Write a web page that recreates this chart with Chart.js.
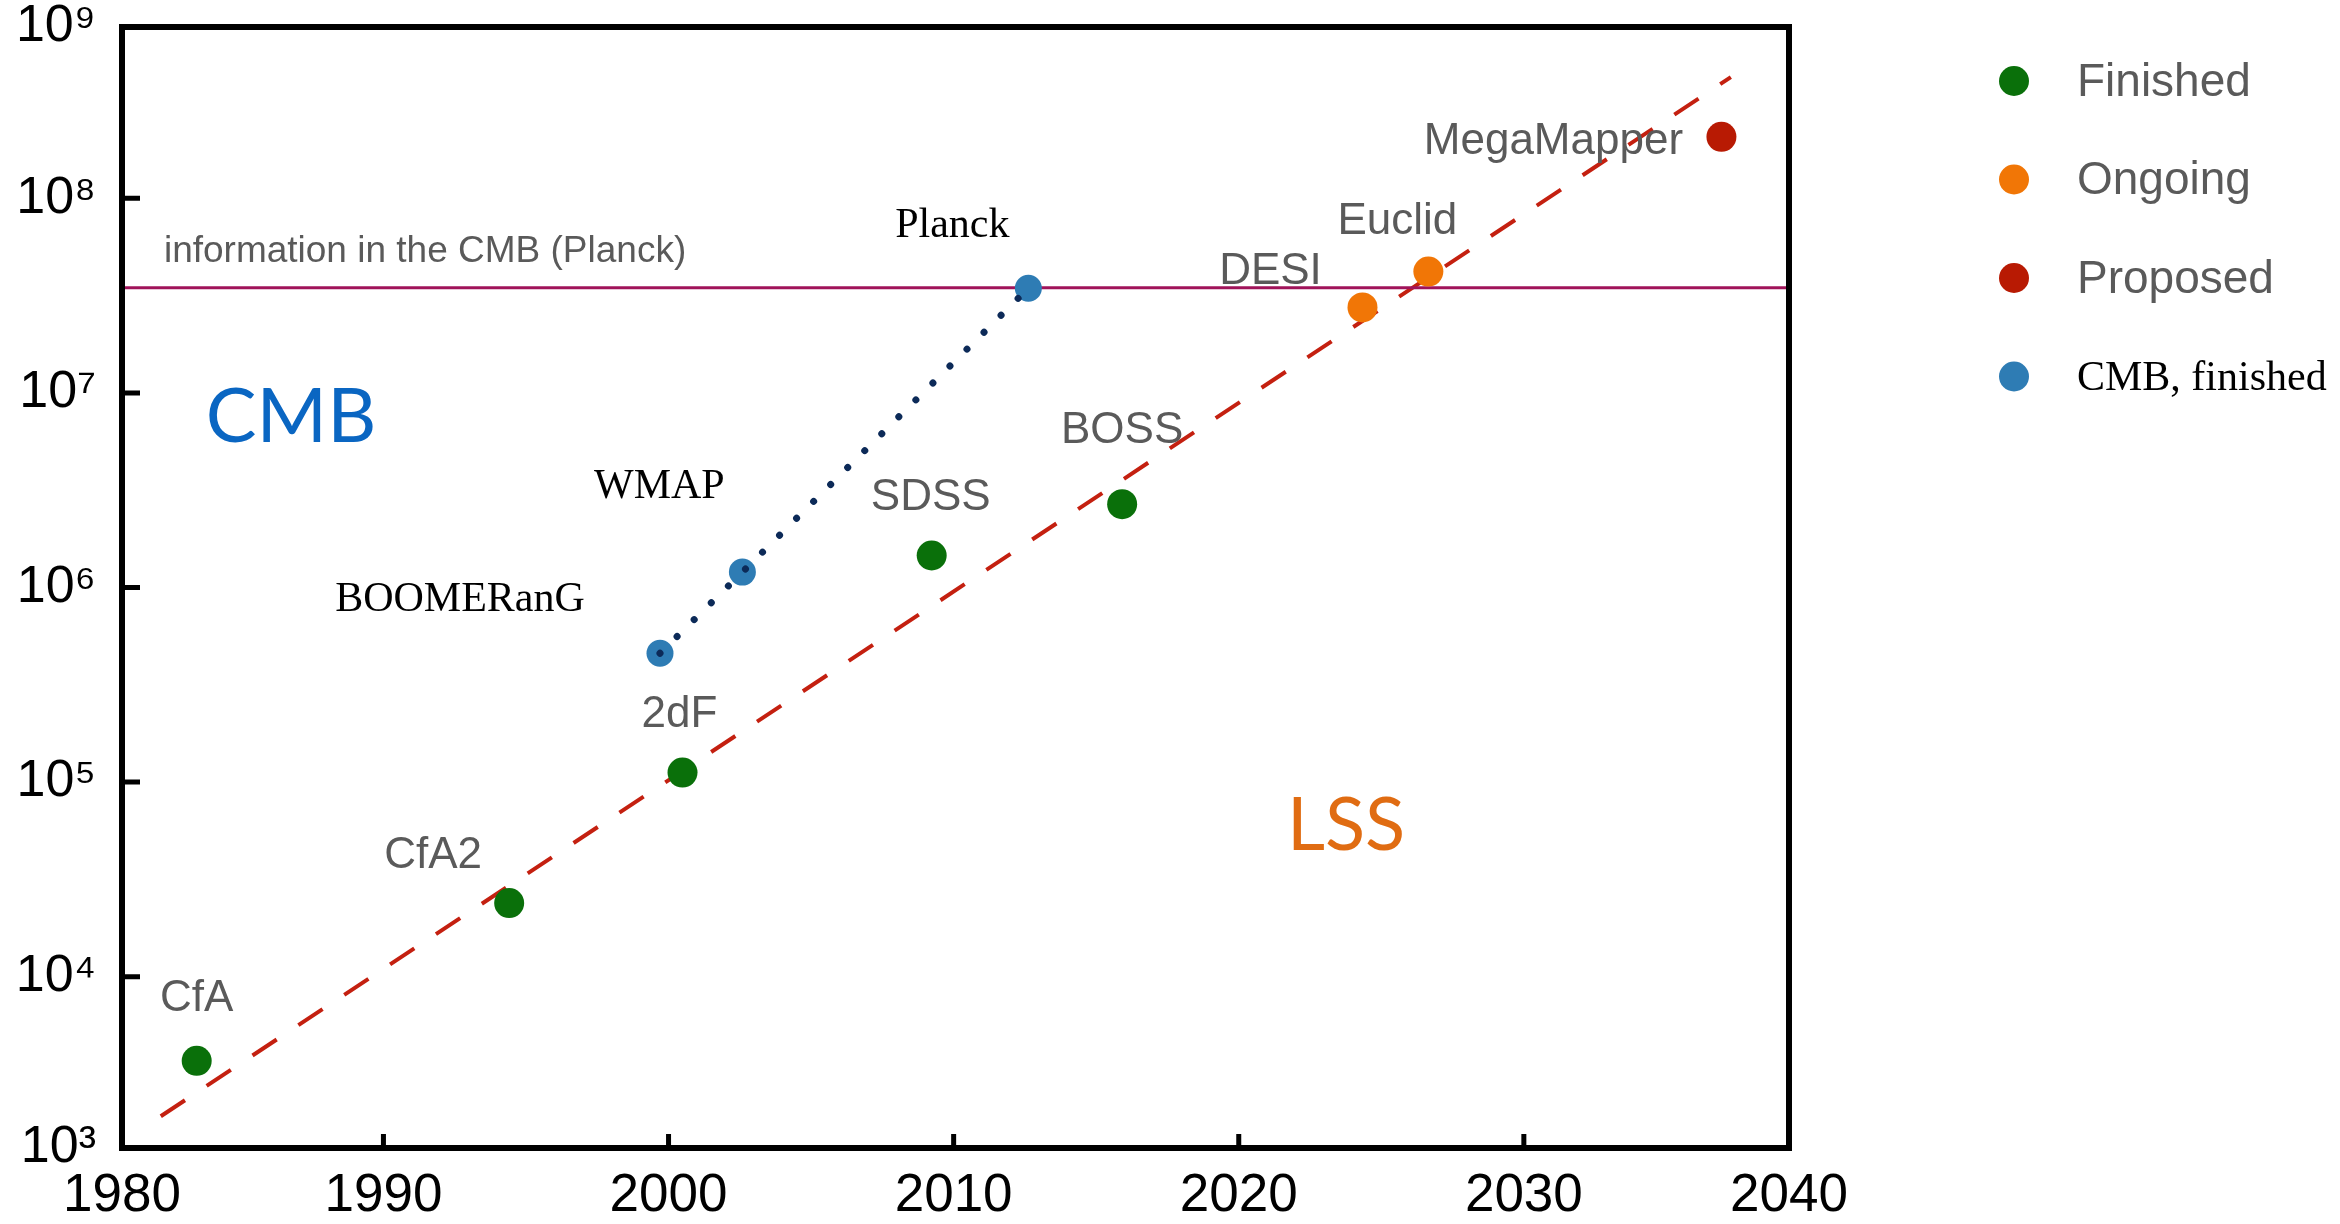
<!DOCTYPE html>
<html lang="en">
<head>
    <meta charset="UTF-8">
    <title>Information content of surveys vs year</title>
    <script src="https://cdn.jsdelivr.net/npm/chart.js"></script>
    <style>
        html, body { margin: 0; padding: 0; background: #fff; }
        #wrap { width: 2340px; height: 1224px; }
    </style>
</head>
<body>
    <div id="wrap"><canvas id="myChart"></canvas></div>

    <script>
        // Galaxy surveys (LSS)
        const surveyNames = ['CfA', 'CfA2', '2dF', 'SDSS', 'BOSS', 'DESI', 'Euclid', 'MegaMapper'];
        const surveyYears = [1983.45, 1994.41, 2000.49, 2009.23, 2015.91, 2024.34, 2026.65, 2036.93];
        const surveyInfo = [3.7e3, 2.39e4, 1.12e5, 1.46e6, 2.68e6, 2.75e7, 4.2e7, 2.07e8];
        const surveyStatus = ['Finished', 'Finished', 'Finished', 'Finished', 'Finished', 'Ongoing', 'Ongoing', 'Proposed'];

        // CMB experiments
        const cmbNames = ['BOOMERanG', 'WMAP', 'Planck'];
        const cmbYears = [1999.70, 2002.59, 2012.62];
        const cmbInfo = [4.59e5, 1.2e6, 3.45e7];

        // red dashed trend for LSS
        const trendYears = [1982.19, 2037.26];
        const trendInfo = [1.92e3, 4.19e8];

        // information in the CMB (Planck)
        const planckLevel = 3.47e7;

        const xTickValues = [1980, 1990, 2000, 2010, 2020, 2030, 2040];
        const xTickLabels = ['1980', '1990', '2000', '2010', '2020', '2030', '2040'];
        const yTickValues = [1e3, 1e4, 1e5, 1e6, 1e7, 1e8, 1e9];
        const yTickLabels = ['10³', '10⁴', '10⁵', '10⁶', '10⁷', '10⁸', '10⁹'];

        // axis extent
        const xMin = 1980.83, xMax = 2039.30;
        const yMin = Math.pow(10, 3.12), yMax = Math.pow(10, 8.88);

        const statusColors = { Finished: '#0a700a', Ongoing: '#f17606', Proposed: '#b81a03' };
        const cmbColor = '#2e7cb4';
        const grayText = '#5a5a5a';

        // label placement relative to its marker (px): [dx of text centre, dy of baseline]
        const labelOffsets = {
            'CfA': [0, -50], 'CfA2': [-76, -35], '2dF': [-3, -46], 'SDSS': [-1, -46],
            'BOSS': [0, -61], 'DESI': [-92, -23], 'Euclid': [-31, -38], 'MegaMapper': [-168, 17],
            'BOOMERanG': [-200, -42], 'WMAP': [-83, -74], 'Planck': [-76, -51]
        };

        const clamp = (v, lo, hi) => Math.min(Math.max(v, lo), hi);

        function statusData(status) {
            const pts = [];
            surveyNames.forEach((n, i) => {
                if (surveyStatus[i] === status) pts.push({ x: surveyYears[i], y: surveyInfo[i] });
            });
            return pts;
        }

        const cmbPoints = cmbYears.map((yr, i) => ({ x: yr, y: cmbInfo[i] }));

        const framePlugin = {
            id: 'frame',
            afterDatasetsDraw(chart) {
                const { ctx, chartArea: a, scales: { x, y } } = chart;
                ctx.save();
                ctx.strokeStyle = '#000';
                ctx.lineWidth = 6;
                ctx.strokeRect(a.left, a.top, a.right - a.left, a.bottom - a.top);
                ctx.lineWidth = 5;
                ctx.beginPath();
                // inward tick marks
                y.ticks.forEach(t => {
                    if (t.value <= y.min || t.value >= y.max) return;
                    const py = y.getPixelForValue(t.value);
                    ctx.moveTo(a.left, py);
                    ctx.lineTo(a.left + 18, py);
                });
                x.ticks.forEach(t => {
                    if (t.value <= x.min || t.value >= x.max) return;
                    const px = x.getPixelForValue(t.value);
                    ctx.moveTo(px, a.bottom);
                    ctx.lineTo(px, a.bottom - 14);
                });
                ctx.stroke();
                ctx.restore();
            }
        };

        const labelPlugin = {
            id: 'pointLabels',
            afterDatasetsDraw(chart) {
                const { ctx, scales: { x, y } } = chart;
                ctx.save();
                ctx.textBaseline = 'alphabetic';
                ctx.textAlign = 'center';

                ctx.fillStyle = grayText;
                ctx.font = '44px "Liberation Sans"';
                surveyNames.forEach((name, i) => {
                    const [dx, dy] = labelOffsets[name];
                    ctx.fillText(name, x.getPixelForValue(surveyYears[i]) + dx, y.getPixelForValue(surveyInfo[i]) + dy);
                });

                ctx.fillStyle = '#000';
                ctx.font = '42px "Liberation Serif"';
                cmbNames.forEach((name, i) => {
                    const [dx, dy] = labelOffsets[name];
                    ctx.fillText(name, x.getPixelForValue(cmbYears[i]) + dx, y.getPixelForValue(cmbInfo[i]) + dy);
                });

                // text on the plot, anchored at data coordinates (left, baseline)
                ctx.textAlign = 'left';
                ctx.fillStyle = grayText;
                ctx.font = '37px "Liberation Sans"';
                ctx.fillText('information in the CMB (Planck)', x.getPixelForValue(1982.30), y.getPixelForValue(4.71e7));

                ctx.fillStyle = '#0a66c2';
                ctx.font = '76px Lato';
                ctx.fillText('CMB', x.getPixelForValue(1983.77), y.getPixelForValue(5.61e6));

                ctx.fillStyle = '#e06c12';
                ctx.font = '74px Lato';
                ctx.fillText('LSS', x.getPixelForValue(2021.69), y.getPixelForValue(4.48e4));
                ctx.restore();
            }
        };

        const legendPlugin = {
            id: 'sideLegend',
            afterDraw(chart) {
                const { ctx, chartArea: a } = chart;
                const items = [
                    { text: 'Finished', color: statusColors.Finished, font: '46px "Liberation Sans"', fill: grayText },
                    { text: 'Ongoing', color: statusColors.Ongoing, font: '46px "Liberation Sans"', fill: grayText },
                    { text: 'Proposed', color: statusColors.Proposed, font: '46px "Liberation Sans"', fill: grayText },
                    { text: 'CMB, finished', color: cmbColor, font: '42px "Liberation Serif"', fill: '#000' }
                ];
                ctx.save();
                items.forEach((it, i) => {
                    const cy = a.top + 54 + i * 98.5;
                    const cx = a.right + 225;
                    ctx.beginPath();
                    ctx.fillStyle = it.color;
                    ctx.arc(cx, cy, 15, 0, Math.PI * 2);
                    ctx.fill();
                    ctx.font = it.font;
                    ctx.fillStyle = it.fill;
                    ctx.textAlign = 'left';
                    ctx.textBaseline = 'middle';
                    ctx.fillText(it.text, a.right + 288, cy + 2);
                });
                ctx.restore();
            }
        };

        const ctx = document.getElementById('myChart').getContext('2d');

        const myChart = new Chart(ctx, {
            type: 'scatter',
            data: {
                datasets: [
                    {
                        label: 'Finished',
                        data: statusData('Finished'),
                        backgroundColor: statusColors.Finished,
                        borderWidth: 0,
                        pointRadius: 15,
                        order: 1
                    },
                    {
                        label: 'Ongoing',
                        data: statusData('Ongoing'),
                        backgroundColor: statusColors.Ongoing,
                        borderWidth: 0,
                        pointRadius: 15,
                        order: 1
                    },
                    {
                        label: 'Proposed',
                        data: statusData('Proposed'),
                        backgroundColor: statusColors.Proposed,
                        borderWidth: 0,
                        pointRadius: 15,
                        order: 1
                    },
                    {
                        label: 'CMB dotted',
                        data: cmbPoints,
                        showLine: true,
                        borderColor: '#0c2a58',
                        borderWidth: 7,
                        borderDash: [0.01, 24],
                        borderCapStyle: 'round',
                        pointRadius: 0,
                        order: 2
                    },
                    {
                        label: 'CMB, finished',
                        data: cmbPoints,
                        backgroundColor: cmbColor,
                        borderWidth: 0,
                        pointRadius: 13.5,
                        order: 3
                    },
                    {
                        label: 'information in the CMB (Planck)',
                        data: [{ x: xMin, y: planckLevel }, { x: xMax, y: planckLevel }],
                        showLine: true,
                        borderColor: '#a0135a',
                        borderWidth: 3,
                        pointRadius: 0,
                        order: 4
                    },
                    {
                        label: 'LSS trend',
                        data: trendYears.map((yr, i) => ({ x: yr, y: trendInfo[i] })),
                        showLine: true,
                        borderColor: '#c42010',
                        borderWidth: 4,
                        borderDash: [29, 26],
                        pointRadius: 0,
                        order: 5
                    }
                ]
            },
            options: {
                responsive: true,
                maintainAspectRatio: false,
                animation: false,
                layout: { padding: { top: 27, right: 551, left: 0, bottom: 0 } },
                plugins: {
                    legend: { display: false },
                    tooltip: { enabled: false }
                },
                scales: {
                    x: {
                        type: 'linear',
                        min: xMin,
                        max: xMax,
                        bounds: 'data',
                        grid: { display: false, drawTicks: false },
                        border: { display: false },
                        afterBuildTicks: s => { s.ticks = xTickValues.map(v => ({ value: clamp(v, xMin, xMax) })); },
                        afterFit: s => { s.height = 76; },
                        ticks: {
                            callback: (v, i) => xTickLabels[i],
                            font: { family: 'Liberation Sans', size: 53, lineHeight: 1 },
                            color: '#000',
                            padding: 22,
                            maxRotation: 0,
                            autoSkip: false
                        }
                    },
                    y: {
                        type: 'logarithmic',
                        min: yMin,
                        max: yMax,
                        bounds: 'data',
                        grid: { display: false, drawTicks: false },
                        border: { display: false },
                        afterBuildTicks: s => { s.ticks = yTickValues.map(v => ({ value: clamp(v, yMin, yMax) })); },
                        afterFit: s => { s.width = 122; s.paddingTop = 0; s.paddingBottom = 0; },
                        ticks: {
                            callback: (v, i) => yTickLabels[i],
                            font: { family: 'Liberation Sans', size: 52, lineHeight: 1 },
                            color: '#000',
                            padding: 26,
                            autoSkip: false
                        }
                    }
                }
            },
            plugins: [framePlugin, labelPlugin, legendPlugin]
        });
    </script>
</body>
</html>
